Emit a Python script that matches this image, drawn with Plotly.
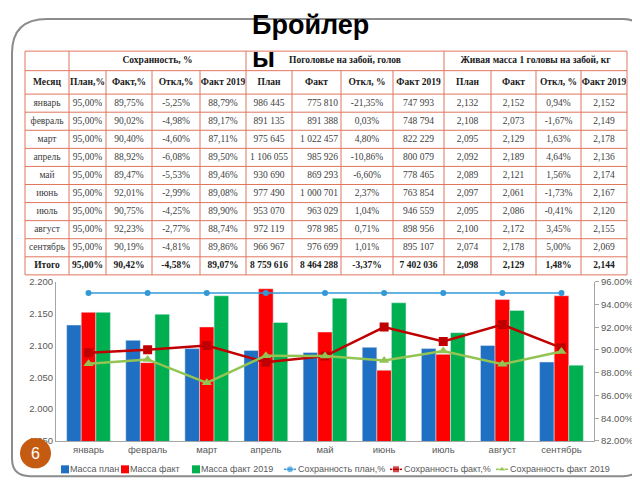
import plotly.graph_objects as go

# --- data ---
months = ["январь", "февраль", "март", "апрель", "май", "июнь", "июль", "август", "сентябрь"]
total_label = "Итого"

surv_plan = [95.00, 95.00, 95.00, 95.00, 95.00, 95.00, 95.00, 95.00, 95.00]
surv_fact = [89.75, 90.02, 90.40, 88.92, 89.47, 92.01, 90.75, 92.23, 90.19]
surv_dev = [-5.25, -4.98, -4.60, -6.08, -5.53, -2.99, -4.25, -2.77, -4.81]
surv_2019 = [88.79, 89.17, 87.11, 89.50, 89.46, 89.08, 89.90, 88.74, 89.86]

heads_plan = [986445, 891135, 975645, 1106055, 930690, 977490, 953070, 972119, 966967]
heads_fact = [775810, 891388, 1022457, 985926, 869293, 1000701, 963029, 978985, 976699]
heads_dev = [-21.35, 0.03, 4.80, -10.86, -6.60, 2.37, 1.04, 0.71, 1.01]
heads_2019 = [747993, 748794, 822229, 800079, 778465, 763854, 946559, 898956, 895107]

mass_plan = [2.132, 2.108, 2.095, 2.092, 2.089, 2.097, 2.095, 2.100, 2.074]
mass_fact = [2.152, 2.073, 2.129, 2.189, 2.121, 2.061, 2.086, 2.172, 2.178]
mass_dev = [0.94, -1.67, 1.63, 4.64, 1.56, -1.73, -0.41, 3.45, 5.00]
mass_2019 = [2.152, 2.149, 2.178, 2.136, 2.174, 2.167, 2.120, 2.155, 2.069]

# строка "Итого"
totals_surv = [95.00, 90.42, -4.58, 89.07]
totals_heads = [8759616, 8464288, -3.37, 7402036]
totals_mass = [2.098, 2.129, 1.48, 2.144]

group_titles = ["Сохранность, %", "Поголовье на забой, голов", "Живая масса 1 головы на забой, кг"]
col_titles = ["Месяц", "План,%", "Факт,%", "Откл,%", "Факт 2019", "План", "Факт", "Откл, %",
              "Факт 2019", "План", "Факт", "Откл, %", "Факт 2019"]

# --- layout constants (pixels on the 640x480 page) ---
COL_EDGES = [17, 61, 98, 144, 192, 238, 284, 333, 385, 436, 483, 528, 573, 619]
ROW_EDGES = [38, 58, 82] + [82 + 18.5 * (i + 1) for i in range(10)]
GROUP_EDGES = [17, 61, 238, 436, 619]
LINE_COLOR = "#E0765E"
SERIF = "Liberation Serif"
SANS = "Liberation Sans"


def pct(v):
    return f"{v:.2f}".replace(".", ",") + "%"


def heads(v):
    return f"{v:,}".replace(",", " ")


def mass(v):
    return f"{v:.3f}".replace(".", ",")


table_cols = [
    months + [total_label],
    [pct(v) for v in surv_plan + [totals_surv[0]]],
    [pct(v) for v in surv_fact + [totals_surv[1]]],
    [pct(v) for v in surv_dev + [totals_surv[2]]],
    [pct(v) for v in surv_2019 + [totals_surv[3]]],
    [heads(v) for v in heads_plan + [totals_heads[0]]],
    [heads(v) for v in heads_fact + [totals_heads[1]]],
    [pct(v) for v in heads_dev + [totals_heads[2]]],
    [heads(v) for v in heads_2019 + [totals_heads[3]]],
    [mass(v) for v in mass_plan + [totals_mass[0]]],
    [mass(v) for v in mass_fact + [totals_mass[1]]],
    [pct(v) for v in mass_dev + [totals_mass[2]]],
    [mass(v) for v in mass_2019 + [totals_mass[3]]],
]

fig = go.Figure()

# --- chart: bars on the left axis ---
bar_series = [("Масса план", mass_plan, "#1F6FC2"),
              ("Масса факт", mass_fact, "#FF0000"),
              ("Масса факт 2019", mass_2019, "#00B050")]
for name, vals, color in bar_series:
    fig.add_trace(go.Bar(x=months, y=vals, name=name, marker_color=color,
                         xaxis="x", yaxis="y", showlegend=False))

# --- chart: survival lines on the right axis ---
line_series = [("Сохранность план,%", surv_plan, "#3398D6", "circle", 6, 1.5),
               ("Сохранность факт,%", surv_fact, "#C00000", "square", 9, 2.5),
               ("Сохранность факт 2019", surv_2019, "#92C453", "triangle-up", 9, 2.5)]
for name, vals, color, sym, size, width in line_series:
    fig.add_trace(go.Scatter(x=months, y=vals, name=name, mode="lines+markers",
                             line=dict(color=color, width=width),
                             marker=dict(symbol=sym, size=size, color=color),
                             xaxis="x", yaxis="y2", showlegend=False))

# --- table text ---
tx, ty, tt, tpos, tcol = [], [], [], [], []
for c in range(13):
    xc = (COL_EDGES[c] + COL_EDGES[c + 1]) / 2
    # header row 2
    tx.append(xc)
    ty.append((ROW_EDGES[1] + ROW_EDGES[2]) / 2)
    tt.append(f"<b>{col_titles[c]}</b>")
    tpos.append("middle center")
    tcol.append("#1a1a1a")
    for r in range(10):
        txt = table_cols[c][r]
        if r == 9:
            txt = f"<b>{txt}</b>"
        if c == 6:
            tx.append(COL_EDGES[c + 1] - 3)
            tpos.append("middle left")
        else:
            tx.append(xc)
            tpos.append("middle center")
        ty.append((ROW_EDGES[r + 2] + ROW_EDGES[r + 3]) / 2)
        tt.append(txt)
        tcol.append("#1a1a1a" if r == 9 else "#404040")
for g in range(3):
    tx.append((GROUP_EDGES[g + 1] + GROUP_EDGES[g + 2]) / 2)
    ty.append((ROW_EDGES[0] + ROW_EDGES[1]) / 2)
    tt.append(f"<b>{group_titles[g]}</b>")
    tpos.append("middle center")
    tcol.append("#1a1a1a")

fig.add_trace(go.Scatter(x=tx, y=ty, text=tt, mode="text", textposition=tpos,
                         textfont=dict(family=SERIF, size=9.5, color=tcol),
                         xaxis="x3", yaxis="y3", showlegend=False, hoverinfo="skip"))

shapes = []
# horizontal table lines
for i, y in enumerate(ROW_EDGES):
    shapes.append(dict(type="line", xref="x3", yref="y3", x0=COL_EDGES[0], x1=COL_EDGES[-1],
                       y0=y, y1=y, line=dict(color=LINE_COLOR, width=1)))
# vertical table lines
for x in COL_EDGES:
    top = ROW_EDGES[0] if x in GROUP_EDGES else ROW_EDGES[1]
    shapes.append(dict(type="line", xref="x3", yref="y3", x0=x, x1=x,
                       y0=top, y1=ROW_EDGES[-1], line=dict(color=LINE_COLOR, width=1)))

# slide frame
shapes.append(dict(type="path", xref="x3", yref="y3",
                   path="M 4,40 Q 4,5 39,5 L 615,5 Q 633,5 633,23 L 633,455 "
                        "Q 633,473 615,473 L 22,473 Q 4,473 4,455 Z",
                   line=dict(color="#8C8C8C", width=2)))
# page number badge
shapes.append(dict(type="circle", xref="x3", yref="y3", x0=12, x1=43, y0=434, y1=465,
                   fillcolor="#C55A11", line=dict(width=0)))

# --- hand-made legend (one row, compact) ---
leg_y = 466
leg_items = [("Масса план", 57, "bar", "#1F6FC2", "square"),
             ("Масса факт", 117, "bar", "#FF0000", "square"),
             ("Масса факт 2019", 188, "bar", "#00B050", "square"),
             ("Сохранность план,%", 282, "line", "#3398D6", "circle"),
             ("Сохранность факт,%", 388, "line", "#C00000", "square"),
             ("Сохранность факт 2019", 494, "line", "#92C453", "triangle-up")]
for label, lx, kind, color, sym in leg_items:
    if kind == "bar":
        fig.add_trace(go.Scatter(x=[lx], y=[leg_y], mode="markers",
                                 marker=dict(symbol="square", size=8, color=color),
                                 xaxis="x3", yaxis="y3", showlegend=False, hoverinfo="skip"))
        tx0 = lx + 5
    else:
        fig.add_trace(go.Scatter(x=[lx - 6, lx, lx + 6], y=[leg_y] * 3, mode="lines+markers",
                                 line=dict(color=color, width=1.5),
                                 marker=dict(symbol=sym, size=[0, 7, 0], color=color),
                                 xaxis="x3", yaxis="y3", showlegend=False, hoverinfo="skip"))
        tx0 = lx + 8
    fig.add_trace(go.Scatter(x=[tx0], y=[leg_y], text=[label], mode="text",
                             textposition="middle right",
                             textfont=dict(family=SANS, size=9, color="#595959"),
                             xaxis="x3", yaxis="y3", showlegend=False, hoverinfo="skip"))

annotations = [
    dict(text="<b>Бройлер</b>", xref="x3", yref="y3", x=242, y=11, xanchor="left",
         yanchor="middle", showarrow=False, font=dict(family=SANS, size=27, color="#000000")),
    dict(text="<b>ы</b>", xref="x3", yref="y3", x=242, y=45, xanchor="left",
         yanchor="middle", showarrow=False, font=dict(family=SANS, size=27, color="#000000")),
    dict(text="6", xref="x3", yref="y3", x=27.5, y=449.5, showarrow=False,
         font=dict(family=SANS, size=16, color="#FFFFFF")),
]

axis_font = dict(family=SANS, size=9.5, color="#595959")
fig.update_layout(
    width=640, height=480,
    margin=dict(l=0, r=0, t=0, b=0),
    paper_bgcolor="white", plot_bgcolor="rgba(0,0,0,0)",
    barmode="group", bargap=0.26, bargroupgap=0,
    xaxis=dict(domain=[48 / 640, 586 / 640], anchor="y", showline=True, linecolor="#A6A6A6",
               tickfont=axis_font, showgrid=False, ticks=""),
    yaxis=dict(domain=[1 - 437 / 480, 1 - 274 / 480], anchor="x", range=[1.95, 2.2], dtick=0.05,
               tickformat=".3f", showgrid=False, zeroline=False, showline=True,
               linecolor="#A6A6A6", tickfont=axis_font),
    yaxis2=dict(overlaying="y", side="right", anchor="x", range=[82, 96], dtick=2,
                tickformat=".2f", ticksuffix="%", showgrid=False, zeroline=False,
                showline=True, linecolor="#A6A6A6", ticks="outside", ticklen=4,
                tickcolor="#A6A6A6", tickfont=axis_font),
    xaxis3=dict(domain=[0, 1], anchor="y3", range=[0, 640], visible=False, fixedrange=True),
    yaxis3=dict(domain=[0, 1], anchor="x3", range=[480, 0], visible=False, fixedrange=True),
    shapes=shapes,
    annotations=annotations,
    showlegend=False,
)

fig.write_html("out.html")
